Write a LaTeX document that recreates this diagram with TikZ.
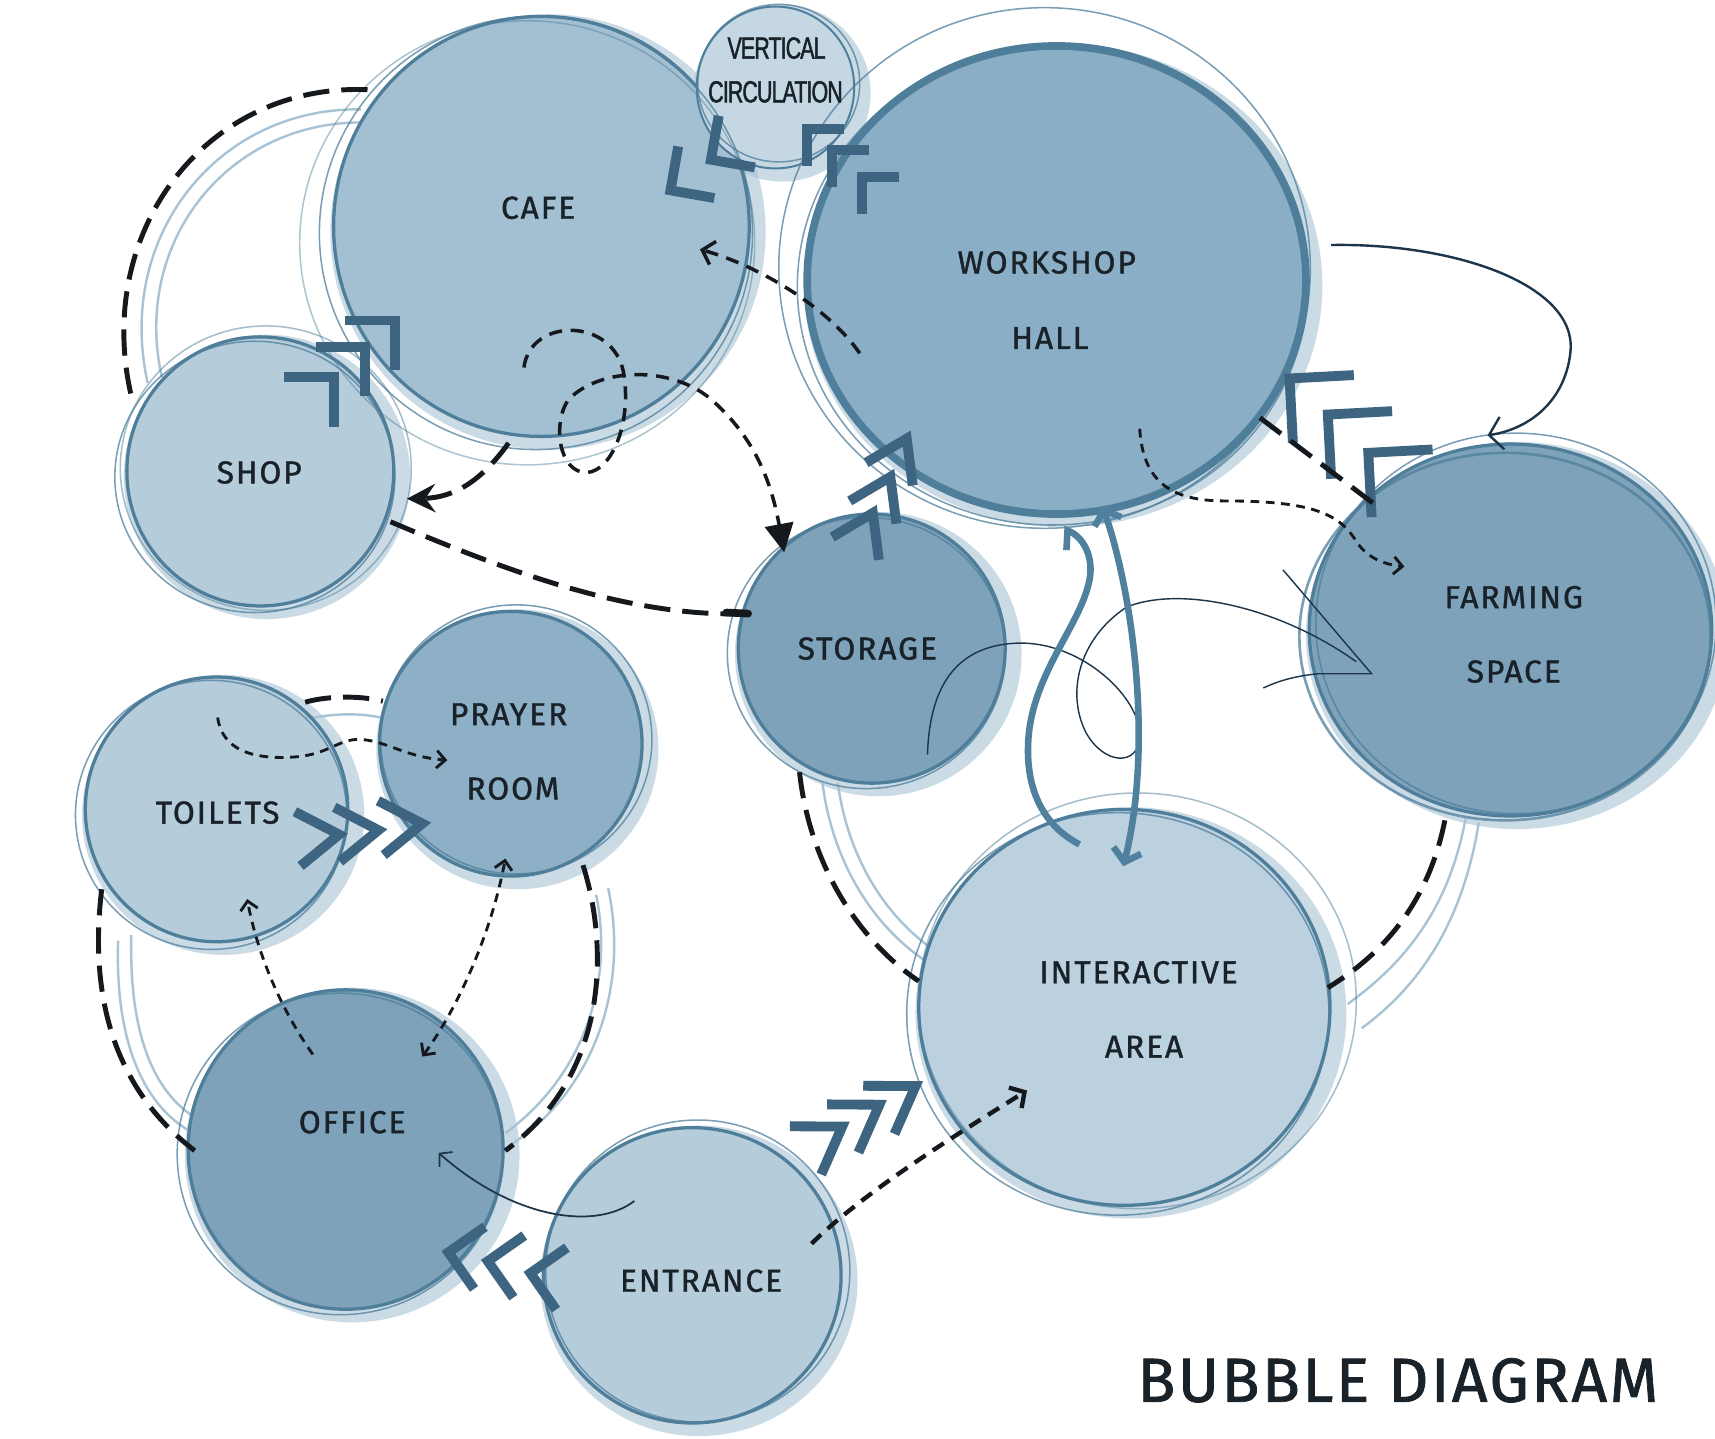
\documentclass[tikz,border=0pt]{standalone}
\usepackage{fontspec}
\setmainfont{Fira Sans}[LetterSpace=6,FakeBold=1.2]
\newfontfamily\vcfont{Liberation Sans}[FakeStretch=0.7,LetterSpace=-3,FakeBold=1.5]
\newfontfamily\titlefont{Fira Sans}[LetterSpace=4,FakeBold=1.2]
\usetikzlibrary{shapes.geometric,arrows.meta}
\definecolor{ink}{HTML}{15191E}
\definecolor{navy}{HTML}{1E3549}
\definecolor{ringcol}{HTML}{4F7E9B}
\definecolor{halocol}{HTML}{A7C3D4}
\definecolor{chevcol}{HTML}{3D6480}
\definecolor{blueline}{HTML}{4F809E}
\definecolor{fillLight}{HTML}{B5CCDB}
\definecolor{fillVC}{HTML}{C4D7E3}
\definecolor{fillCafe}{HTML}{A2C0D2}
\definecolor{fillPray}{HTML}{8DB0C6}
\definecolor{fillWork}{HTML}{8AAEC5}
\definecolor{fillDark}{HTML}{7DA2BA}
\definecolor{fillInt}{HTML}{BBD1DF}
\definecolor{txt}{HTML}{1A2229}
\tikzset{
  openbarb/.tip={Straight Barb[length=10pt,width=22pt]},
  smallbarb/.tip={Straight Barb[length=8pt,width=16pt]},
  bigtri/.tip={Triangle[length=26pt,width=26pt]},
  featherhead/.tip={Stealth[length=26pt,width=26pt,inset=9pt]},
}
\begin{document}
\begin{tikzpicture}[x=1pt,y=-1pt,
  bubble/.style={ellipse,inner sep=0pt,outer sep=0pt,draw=ringcol,line width=3pt,fill=#1},
  halo/.style={fill=halocol,opacity=0.6},
  ringA/.style={draw=ringcol,line width=1.4pt,opacity=0.75},
  lbl/.style={text=txt,font=\fontsize{29}{30}\selectfont,inner sep=0pt},
  thickdash/.style={draw=ink,line width=4.5pt,dash pattern=on 24pt off 11pt},
  meddash/.style={draw=ink,line width=3.2pt,dash pattern=on 12pt off 8pt},
  smalldash/.style={draw=ink,line width=2.6pt,dash pattern=on 8pt off 6pt},
  paleb/.style={draw=halocol,line width=2.2pt},
  thinink/.style={draw=navy,line width=1.3pt},
  bluearrow/.style={draw=blueline,line width=6pt},
  chev/.pic={\draw[draw=chevcol,line width=9pt,miter limit=20] (-32,-32) -- (0,0) -- (-32,32);},
  chevn/.pic={\draw[draw=chevcol,line width=9pt,miter limit=20] (-38,-25) -- (0,0) -- (-38,25);},
]
\fill[white] (0,0) rectangle (1568,1315);
\useasboundingbox (0,0) rectangle (1568,1315);

% ---------- pale relationship lines (background)
\draw[paleb] (330,100) .. controls (200,98) and (105,215) .. (135,350);
\draw[paleb] (333,112) .. controls (210,110) and (120,220) .. (148,345);
\draw[paleb] (752,716) .. controls (762,795) and (805,855) .. (855,884);
\draw[paleb] (766,716) .. controls (776,790) and (815,845) .. (862,874);
\draw[paleb] (1340,748) .. controls (1325,830) and (1285,880) .. (1232,918);
\draw[paleb] (1352,752) .. controls (1338,840) and (1300,900) .. (1245,940);
\draw[paleb] (108,860) .. controls (105,950) and (130,1010) .. (175,1035);
\draw[paleb] (120,855) .. controls (118,945) and (140,1000) .. (182,1024);
\draw[paleb] (545,818) .. controls (562,900) and (532,985) .. (462,1036);
\draw[paleb] (556,812) .. controls (575,900) and (545,995) .. (468,1046);
\draw[paleb] (283,657) .. controls (305,652) and (330,652) .. (348,656);

% ---------- halos
\foreach \x/\y/\rx/\ry in {495/207/190/192, 709/80/72/74, 966/256/228/214,
   238/431/122/123, 797/593/122/123, 1381/576/184/170, 198/740/120/121,
   467/680/120/121, 316/1051/144/146, 633/1166/136/135, 1028/921/188/181}
  \fill[halo] (\x+6,\y+5) ellipse [x radius=\rx+9, y radius=\ry+7];

% ---------- bubbles
\node[bubble=fillCafe,minimum width=380pt,minimum height=384pt] (cafe) at (495,207) {};
\node[bubble=fillVC,minimum width=144pt,minimum height=148pt,line width=1.8pt] (vc) at (709,80) {};
\node[bubble=fillLight,minimum width=244pt,minimum height=246pt] (shop) at (238,431) {};
\node[bubble=fillWork,minimum width=456pt,minimum height=428pt,line width=7pt] (work) at (966,256) {};
\node[bubble=fillDark,minimum width=244pt,minimum height=246pt] (storage) at (797,593) {};
\node[bubble=fillDark,minimum width=368pt,minimum height=340pt] (farm) at (1381,576) {};
\node[bubble=fillLight,minimum width=240pt,minimum height=242pt] (toilets) at (198,740) {};
\node[bubble=fillPray,minimum width=240pt,minimum height=242pt] (prayer) at (467,680) {};
\node[bubble=fillDark,minimum width=288pt,minimum height=292pt] (office) at (316,1051) {};
\node[bubble=fillLight,minimum width=272pt,minimum height=270pt] (entrance) at (633,1166) {};
\node[bubble=fillInt,minimum width=376pt,minimum height=362pt] (inter) at (1028,921) {};

% ---------- sketch rings
\draw[ringA] (490,213) ellipse [x radius=198, y radius=198];
\draw[ringA,opacity=.45] (482,222) ellipse [x radius=208, y radius=203];
\draw[ringA] (712,76) ellipse [x radius=74, y radius=72];
\draw[ringA] (233,436) ellipse [x radius=128, y radius=124];
\draw[ringA,opacity=.5] (243,428) ellipse [x radius=133, y radius=130];
\draw[ringA] (955,245) ellipse [x radius=243, y radius=238];
\draw[ringA] (962,262) ellipse [x radius=233, y radius=218];
\draw[ringA] (792,597) ellipse [x radius=127, y radius=124];
\draw[ringA,line width=2.4pt] (1376,582) ellipse [x radius=188, y radius=168];
\draw[ringA] (1386,570) ellipse [x radius=183, y radius=174];
\draw[ringA] (193,745) ellipse [x radius=124, y radius=123];
\draw[ringA] (472,676) ellipse [x radius=124, y radius=123];
\draw[ringA] (311,1055) ellipse [x radius=149, y radius=147];
\draw[ringA] (638,1162) ellipse [x radius=139, y radius=138];
\draw[ringA] (1022,927) ellipse [x radius=193, y radius=184];
\draw[ringA,opacity=.5] (1040,915) ellipse [x radius=200, y radius=190];

% ---------- thin scribbles
\draw[thinink] (848,690) .. controls (850,620) and (880,590) .. (930,588)
  .. controls (990,586) and (1045,640) .. (1042,675)
  .. controls (1040,700) and (1010,700) .. (993,670)
  .. controls (975,635) and (985,585) .. (1030,555)
  .. controls (1080,535) and (1170,555) .. (1240,605);
\draw[thinink] (1173,521) -- (1254,616) -- (1205,616) .. controls (1185,618) and (1170,622) .. (1155,629);

% ---------- thick blue connectors workshop <-> interactive
\draw[bluearrow] (975,503) -- (976,485) .. controls (990,490) and (1002,510) .. (995,535)
  .. controls (985,575) and (942,620) .. (940,680)
  .. controls (938,730) and (960,758) .. (987,772);
\coordinate (wsb) at (1008,463);
\coordinate (iat) at (1027,792);
\draw[bluearrow,{Straight Barb[length=11pt,width=26pt]}-{Straight Barb[length=11pt,width=26pt]}]
  (wsb) .. controls (1035,540) and (1055,680) .. (iat);

% ---------- chevrons
\pic[rotate=215,scale=0.9] at (613,174) {chev};
\pic[rotate=215,scale=0.9] at (650,146) {chev};
\pic[rotate=135,scale=0.75] at (738,118) {chev};
\pic[rotate=135,scale=0.75] at (761,137) {chev};
\pic[rotate=135,scale=0.75] at (788,162) {chev};
\pic[rotate=45,scale=1.0] at (305,345) {chev};
\pic[rotate=45,scale=1.0] at (334,317) {chev};
\pic[rotate=45,scale=1.0] at (361,293) {chev};
\pic[rotate=64,scale=0.95] at (829,401) {chevn};
\pic[rotate=64,scale=0.95] at (814,436) {chevn};
\pic[rotate=64,scale=0.95] at (798,469) {chevn};
\pic[rotate=138,scale=1.3] at (1179,346) {chev};
\pic[rotate=138,scale=1.3] at (1214,379) {chev};
\pic[rotate=138,scale=1.3] at (1251,414) {chev};
\pic[rotate=6,scale=1.0] at (310,763) {chevn};
\pic[rotate=6,scale=1.0] at (346,759) {chevn};
\pic[rotate=6,scale=1.0] at (386,753) {chevn};
\pic[rotate=170,scale=0.9] at (410,1145) {chev};
\pic[rotate=170,scale=0.9] at (446,1153) {chev};
\pic[rotate=170,scale=0.9] at (485,1164) {chev};
\pic[rotate=33,scale=1.05] at (770,1030) {chevn};
\pic[rotate=33,scale=1.05] at (804,1010) {chevn};
\pic[rotate=33,scale=1.05] at (837,993) {chevn};

% ---------- black dashed relations
\coordinate (c1) at (336,82);
\coordinate (s1) at (120,362);
\draw[thickdash] (c1) .. controls (190,76) and (85,210) .. (s1);
\coordinate (c2) at (465,405);
\coordinate (s2) at (372,456);
\draw[thickdash,-featherhead] (c2) .. controls (440,440) and (415,455) .. (s2);
\coordinate (s3) at (357,477);
\coordinate (st1) at (684,561);
\draw[thickdash] (s3) .. controls (470,525) and (580,565) .. (st1);
\draw[ink,line width=7pt,line cap=round] (664,560) -- (st1);
\coordinate (c3) at (479,336);
\coordinate (st2) at (717,505);
\draw[meddash,-bigtri] (c3) .. controls (485,290) and (560,290) .. (570,340)
  .. controls (578,385) and (560,430) .. (537,432)
  .. controls (510,433) and (505,385) .. (520,365)
  .. controls (550,335) and (615,335) .. (650,365)
  .. controls (690,400) and (705,440) .. (st2);
\coordinate (w1) at (786,323);
\coordinate (c4) at (640,228);
\draw[meddash,-openbarb] (w1) .. controls (760,285) and (700,245) .. (c4);
\coordinate (w2) at (1217,224);
\coordinate (f1) at (1360,398);
\draw[navy,line width=2.2pt,-{Straight Barb[length=12pt,width=30pt]}] (w2) .. controls (1330,222) and (1440,260) .. (1436,320)
  .. controls (1432,365) and (1400,392) .. (f1);
\coordinate (w3) at (1042,392);
\coordinate (f2) at (1284,518);
\draw[smalldash,-smallbarb] (w3) .. controls (1045,440) and (1070,458) .. (1120,458)
  .. controls (1200,458) and (1225,470) .. (1240,495)
  .. controls (1250,510) and (1265,516) .. (f2);
\coordinate (w4) at (1152,382);
\coordinate (f3) at (1258,462);
\draw[thickdash] (w4) -- (f3);
\coordinate (st3) at (731,706);
\coordinate (i1) at (840,897);
\draw[thickdash] (st3) .. controls (740,790) and (785,860) .. (i1);
\coordinate (f4) at (1321,750);
\coordinate (i2) at (1214,903);
\draw[thickdash] (f4) .. controls (1305,830) and (1260,875) .. (i2);
\coordinate (t1) at (93,813);
\coordinate (o1) at (178,1052);
\draw[thickdash] (t1) .. controls (80,920) and (110,1000) .. (o1);
\coordinate (p1) at (533,791);
\coordinate (o2) at (462,1052);
\draw[thickdash] (p1) .. controls (555,860) and (560,980) .. (o2);
\coordinate (t2) at (279,642);
\coordinate (p2) at (350,641);
\draw[thickdash] (t2) .. controls (300,636) and (330,636) .. (p2);
\coordinate (t3) at (199,656);
\coordinate (p3) at (409,695);
\draw[smalldash,-smallbarb] (t3) .. controls (203,685) and (230,695) .. (270,692)
  .. controls (300,690) and (310,675) .. (330,676)
  .. controls (355,678) and (370,692) .. (p3);
\coordinate (o3) at (286,964);
\coordinate (t4) at (226,822);
\draw[smalldash,-smallbarb] (o3) .. controls (255,920) and (235,870) .. (t4);
\coordinate (o4) at (386,966);
\coordinate (p4) at (462,785);
\draw[smalldash,smallbarb-smallbarb] (o4) .. controls (420,920) and (450,850) .. (p4);
\coordinate (e1) at (580,1098);
\coordinate (o5) at (401,1054);
\draw[thinink,line width=1.6pt,-{Straight Barb[length=8pt,width=18pt]}] (e1) .. controls (545,1125) and (470,1115) .. (o5);
\coordinate (e2) at (742,1137);
\coordinate (i3) at (939,997);
\draw[meddash,line width=4pt,-openbarb] (e2) .. controls (790,1090) and (870,1040) .. (i3);

% ---------- labels
\node[lbl] (cafe-t) at (492,190) {CAFE};
\node[lbl,font=\vcfont\fontsize{28}{29}\selectfont] (vc-t1) at (710,44) {VERTICAL};
\node[lbl,font=\vcfont\fontsize{28}{29}\selectfont] (vc-t2) at (709,84) {CIRCULATION};
\node[lbl] (work-t1) at (957,240) {WORKSHOP};
\node[lbl] (work-t2) at (960,309) {HALL};
\node[lbl] (shop-t) at (237,432) {SHOP};
\node[lbl] (storage-t) at (793,593) {STORAGE};
\node[lbl] (farm-t1) at (1384,546) {FARMING};
\node[lbl] (farm-t2) at (1384,614) {SPACE};
\node[lbl] (toilets-t) at (199,743) {TOILETS};
\node[lbl] (prayer-t1) at (465,653) {PRAYER};
\node[lbl] (prayer-t2) at (469,721) {ROOM};
\node[lbl] (office-t) at (322,1026) {OFFICE};
\node[lbl] (entrance-t) at (641,1171) {ENTRANCE};
\node[lbl] (inter-t1) at (1041,889) {INTERACTIVE};
\node[lbl] (inter-t2) at (1046,957) {AREA};
\node[text=txt,font=\titlefont\fontsize{57}{60}\selectfont,inner sep=0pt] (title) at (1278,1262) {BUBBLE DIAGRAM};
\end{tikzpicture}
\end{document}
